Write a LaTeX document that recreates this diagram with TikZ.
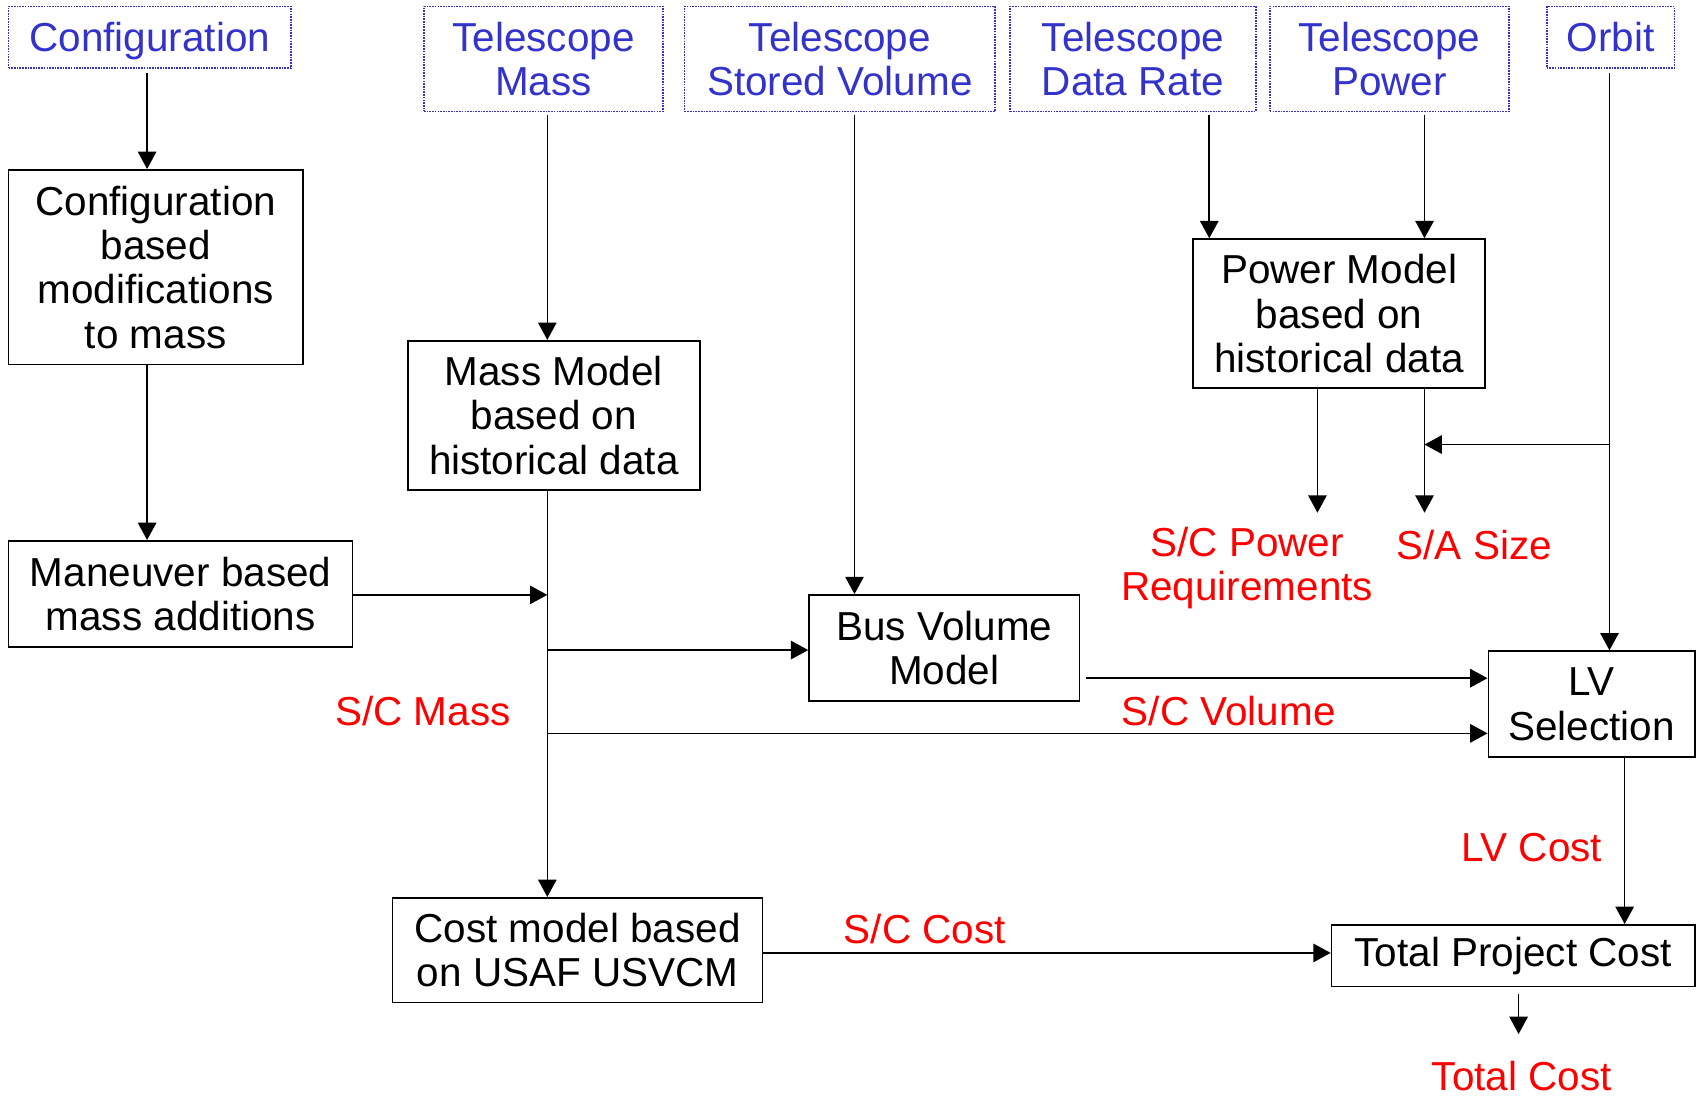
\documentclass[tikz,border=0pt]{standalone}
\usepackage{fontspec}
\setmainfont{Liberation Sans}
\usepackage{tikz}
\usetikzlibrary{arrows.meta,positioning}

\definecolor{inblue}{RGB}{51,51,204}
\definecolor{outred}{RGB}{255,0,0}

\begin{document}
\begin{tikzpicture} [x=1pt,y=-1pt,->,>={Triangle[length=16pt,width=17pt]},line width=1.5pt,
	font=\fontsize{37.4}{41}\selectfont,
	inbox/.style={draw=inblue,densely dotted,text=inblue,align=center,inner sep=0pt},
	modbox/.style={draw,align=center,inner sep=0pt},
	outlbl/.style={text=outred,align=center,inner sep=0pt}]
	\useasboundingbox (0,0) rectangle (1568,1016);

	% inputs
	\node[inbox,minimum width=261pt,minimum height=57pt,text depth=0pt](cfg) at (138.5,34.5) {Configuration};
	\node[inbox,minimum width=221pt,minimum height=97pt](tmass) at (502.5,54.5) {Telescope\\Mass};
	\node[inbox,minimum width=287pt,minimum height=97pt](tvol) at (776.5,54.5) {Telescope\\Stored Volume};
	\node[inbox,minimum width=227pt,minimum height=97pt](trate) at (1047.5,54.5) {Telescope\\Data Rate};
	\node[inbox,minimum width=221pt,minimum height=97pt](tpow) at (1284.5,54.5) {Telescope\\Power};
	\node[inbox,minimum width=118pt,minimum height=57pt,text depth=0pt](orbit) at (1489,34.5) {Orbit};

	% models
	\node[modbox,minimum width=272pt,minimum height=180pt](cfgmod) at (144,247) {Configuration\\based\\modifications\\to mass};
	\node[modbox,minimum width=270pt,minimum height=138pt](massmod) at (512,384) {Mass Model\\based on\\historical data};
	\node[modbox,minimum width=318pt,minimum height=98pt](manv) at (167,549) {Maneuver based\\mass additions};
	\node[modbox,minimum width=250pt,minimum height=98pt](busvol) at (873,599) {Bus Volume\\Model};
	\node[modbox,minimum width=270pt,minimum height=138pt](powmod) at (1238,290) {Power Model\\based on\\historical data};
	\node[modbox,minimum width=191pt,minimum height=98pt](lvsel) at (1471.5,651) {LV\\Selection};
	\node[modbox,minimum width=342pt,minimum height=97pt](costmod) at (534,878.5) {Cost model based\\on USAF USVCM};
	\node[modbox,minimum width=336pt,minimum height=57pt](total) at (1399,883.5) {Total Project Cost};

	% outputs
	\node[outlbl](scpow) at (1153,525) {S/C Power\\Requirements};
	\node[outlbl](sasize) at (1363,504) {S/A Size};
	\node[outlbl](scmass) at (391,657) {S/C Mass};
	\node[outlbl](scvol) at (1136,657) {S/C Volume};
	\node[outlbl](lvcost) at (1416,784) {LV Cost};
	\node[outlbl](sccost) at (855,859) {S/C Cost};
	\node[outlbl](totcost) at (1407,995) {Total Cost};

	% lanes and rows for the wiring
	\coordinate (laneCfg) at (136,0);
	\coordinate (laneMass) at (506,0);
	\coordinate (laneVol) at (790,0);
	\coordinate (laneRate) at (1118,0);
	\coordinate (lanePow) at (1317,0);
	\coordinate (laneReq) at (1218,0);
	\coordinate (laneOrbit) at (1488,0);
	\coordinate (laneLV) at (1502,0);
	\coordinate (laneTot) at (1404,0);
	\coordinate (rowSA) at (0,411);
	\coordinate (rowManv) at (0,550);
	\coordinate (rowBus) at (0,601);
	\coordinate (rowBvOut) at (0,627);
	\coordinate (rowMassOut) at (0,678);
	\coordinate (rowCost) at (0,881);
	\coordinate (reqTip) at (1218,474);
	\coordinate (saTip) at (1317,474);
	\coordinate (totTip) at (1404,956);

	\draw[shorten <=4pt] (cfg.south -| laneCfg) -- (cfgmod.north -| laneCfg);
	\draw (cfgmod.south -| laneCfg) -- (manv.north -| laneCfg);
	\draw[shorten <=3pt] (tmass.south -| laneMass) -- (massmod.north -| laneMass);
	\draw (massmod.south -| laneMass) -- (costmod.north -| laneMass);
	\draw (manv.east |- rowManv) -- (laneMass |- rowManv);
	\draw (laneMass |- rowBus) -- (busvol.west |- rowBus);
	\draw (laneMass |- rowMassOut) -- (lvsel.west |- rowMassOut);
	\draw[shorten <=3pt] (tvol.south -| laneVol) -- (busvol.north -| laneVol);
	\draw[shorten <=5pt] (busvol.east |- rowBvOut) -- (lvsel.west |- rowBvOut);
	\draw[shorten <=3pt] (trate.south -| laneRate) -- (powmod.north -| laneRate);
	\draw[shorten <=3pt] (tpow.south -| lanePow) -- (powmod.north -| lanePow);
	\draw (powmod.south -| laneReq) -- (reqTip);
	\draw (powmod.south -| lanePow) -- (saTip);
	\draw[shorten <=4pt] (orbit.south -| laneOrbit) -- (lvsel.north -| laneOrbit);
	\draw (laneOrbit |- rowSA) -- (lanePow |- rowSA);
	\draw (lvsel.south -| laneLV) -- (total.north -| laneLV);
	\draw (costmod.east |- rowCost) -- (total.west |- rowCost);
	\draw[shorten <=6pt] (total.south -| laneTot) -- (totTip);
\end{tikzpicture}
\end{document}
